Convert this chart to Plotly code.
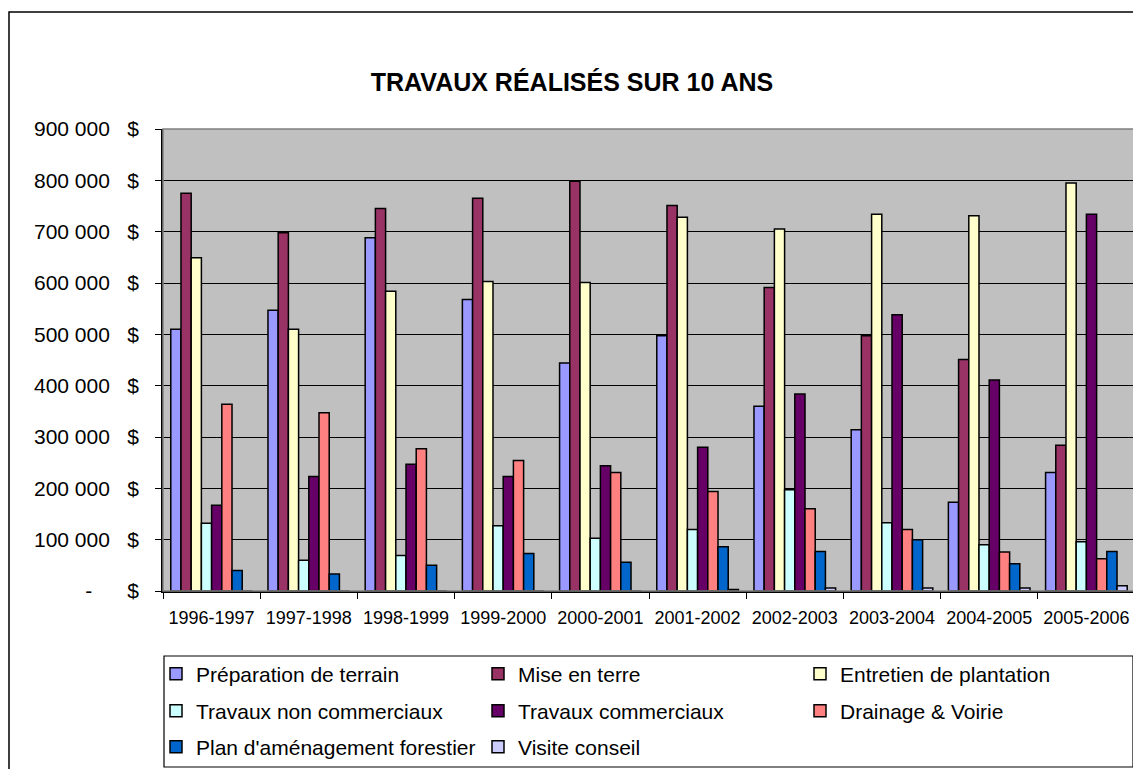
import plotly.graph_objects as go

annees = ['1996-1997', '1997-1998', '1998-1999', '1999-2000', '2000-2001',
          '2001-2002', '2002-2003', '2003-2004', '2004-2005', '2005-2006']

preparation = [510000, 547000, 688000, 568000, 444000, 497000, 360000, 314000, 173000, 231000]
mise_en_terre = [775000, 698000, 745000, 765000, 798000, 751000, 591000, 497000, 451000, 284000]
entretien = [649000, 510000, 584000, 603000, 601000, 728000, 705000, 734000, 731000, 795000]
non_commerciaux = [132000, 60000, 69000, 127000, 103000, 120000, 197000, 133000, 90000, 96000]
commerciaux = [167000, 223000, 247000, 223000, 244000, 280000, 384000, 538000, 411000, 734000]
drainage = [364000, 347000, 277000, 254000, 231000, 194000, 160000, 120000, 76000, 63000]
plan_amenagement = [40000, 33000, 50000, 73000, 56000, 86000, 77000, 100000, 53000, 77000]
visite_conseil = [0, 0, 0, 0, 0, 3000, 6000, 6000, 6000, 10000]

y_ticks = [0, 100000, 200000, 300000, 400000, 500000, 600000, 700000, 800000, 900000]
nb = '\u00a0'
y_labels = ['-' + nb * 6 + '$'] + [f'{v // 1000} 000' + nb * 3 + '$' for v in y_ticks[1:]]

# (nom, valeurs, couleur, légende)
series = [
    ('Préparation de terrain', preparation, '#9999FF', 'legend'),
    ('Mise en terre', mise_en_terre, '#993366', 'legend'),
    ('Entretien de plantation', entretien, '#FFFFCC', 'legend'),
    ('Travaux non commerciaux', non_commerciaux, '#CCFFFF', 'legend2'),
    ('Travaux commerciaux', commerciaux, '#660066', 'legend2'),
    ('Drainage & Voirie', drainage, '#FF8080', 'legend2'),
    ("Plan d'aménagement forestier", plan_amenagement, '#0066CC', 'legend3'),
    ('Visite conseil', visite_conseil, '#CCCCFF', 'legend3'),
]

FONT = 'Liberation Sans, Arial, sans-serif'

fig = go.Figure()
for nom, vals, couleur, leg in series:
    fig.add_trace(go.Bar(
        x=annees, y=vals, name=nom, legend=leg,
        marker=dict(color=couleur, line=dict(color='black', width=1.5)),
    ))

# la page html ajoute une marge de 8 px autour de la figure
OFF = 8
W, H = 1141 - OFF, 769 - OFF
L, R, T, B = 163 - OFF, 1135 - OFF, 129 - OFF, 591 - OFF
pw, ph = R - L, B - T

def px(x):
    return (x - OFF - L) / pw

def py(y):
    return (B - (y - OFF)) / ph

legend_common = dict(orientation='h', xanchor='left', yanchor='middle',
                     entrywidth=277, entrywidthmode='pixels',
                     font=dict(family=FONT, size=21, color='black'),
                     bgcolor='rgba(0,0,0,0)', borderwidth=0)

fig.update_layout(
    width=W, height=H,
    margin=dict(l=L, r=W - R, t=T, b=H - B, autoexpand=False),
    paper_bgcolor='white',
    plot_bgcolor='#C0C0C0',
    bargap=0.16, bargroupgap=0,
    barmode='group',
    font=dict(family=FONT, color='black'),
    title=dict(text='<b>TRAVAUX RÉALISÉS SUR 10 ANS</b>',
               x=(572 - OFF) / W, xanchor='center', y=1 - (82 - OFF) / H, yanchor='middle',
               font=dict(family=FONT, size=25, color='black')),
    xaxis=dict(type='category', tickson='boundaries', ticks='outside', ticklen=6,
               tickcolor='black', showline=True, linecolor='black', linewidth=1.5,
               tickfont=dict(size=18), showgrid=False, ticklabelstandoff=10),
    yaxis=dict(range=[0, 900000], tickvals=y_ticks, ticktext=y_labels,
               ticks='outside', ticklen=6, tickcolor='black',
               showline=True, linecolor='black', linewidth=1.5,
               showgrid=True, gridcolor='black', gridwidth=1,
               tickfont=dict(size=21), ticklabelstandoff=12, zeroline=False),
    legend=dict(x=px(156), y=py(674), **legend_common),
    legend2=dict(x=px(156), y=py(711), **legend_common),
    legend3=dict(x=px(156), y=py(747), **legend_common),
    shapes=[
        # cadre du graphique
        dict(type='rect', xref='paper', yref='paper',
             x0=px(9), x1=px(1160), y0=py(12), y1=py(800),
             line=dict(color='black', width=1.5), layer='below'),
        # bordure de la zone de tracé
        dict(type='rect', xref='paper', yref='paper',
             x0=0, x1=1, y0=0, y1=1,
             line=dict(color='#808080', width=1.5), layer='above'),
        # cadre de la légende
        dict(type='rect', xref='paper', yref='paper',
             x0=px(164), x1=px(1133), y0=py(656), y1=py(767),
             line=dict(color='black', width=1.2)),
    ],
)

fig.write_html('out.html')
